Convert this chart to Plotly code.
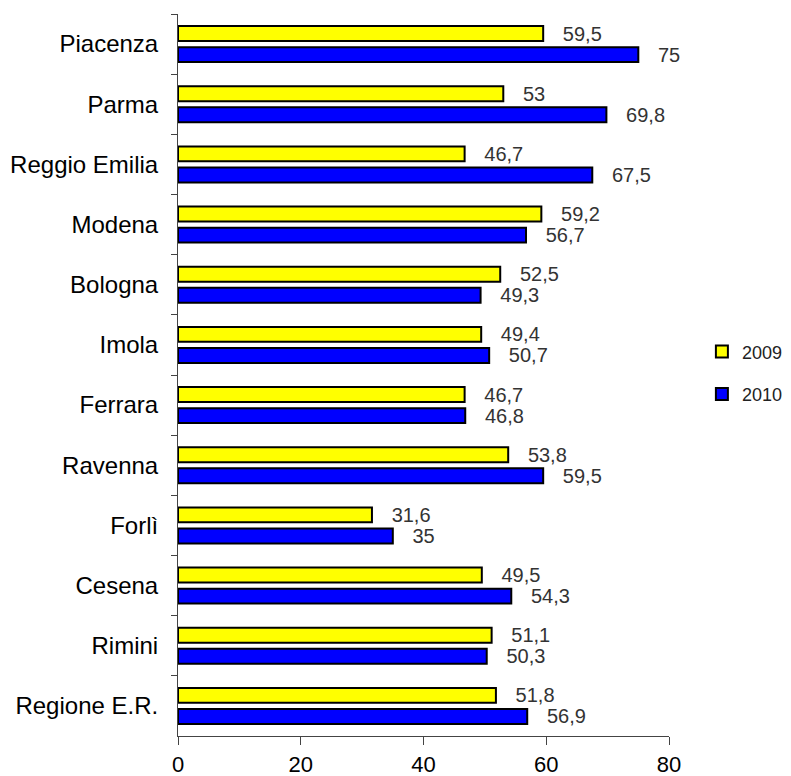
import plotly.graph_objects as go

categories = ["Piacenza", "Parma", "Reggio Emilia", "Modena", "Bologna", "Imola",
              "Ferrara", "Ravenna", "Forlì", "Cesena", "Rimini", "Regione E.R."]
values_2009 = [59.5, 53, 46.7, 59.2, 52.5, 49.4, 46.7, 53.8, 31.6, 49.5, 51.1, 51.8]
values_2010 = [75, 69.8, 67.5, 56.7, 49.3, 50.7, 46.8, 59.5, 35, 54.3, 50.3, 56.9]
series_names = ["2009", "2010"]
x_ticks = [0, 20, 40, 60, 80]


def fmt(v):
    return "\u00a0\u00a0\u00a0" + f"{v:g}".replace(".", ",")


FONT = "Liberation Sans, Arial, sans-serif"

fig = go.Figure()
for name, vals, color in [(series_names[0], values_2009, "#FFFF00"),
                          (series_names[1], values_2010, "#0000FF")]:
    fig.add_trace(go.Bar(
        y=categories, x=vals, orientation="h", name=name,
        marker=dict(color=color, line=dict(color="black", width=2)),
        text=[fmt(v) for v in vals], textposition="outside",
        constraintext="none",
        textfont=dict(family=FONT, size=20, color="#333333"),
        cliponaxis=False, legendgroup=name,
    ))

fig.update_layout(
    width=800, height=768,
    margin=dict(l=170, r=139, t=6, b=40, autoexpand=False),
    paper_bgcolor="white", plot_bgcolor="white",
    barmode="group", bargap=0.3, bargroupgap=0.29,
    font=dict(family=FONT, color="black"),
    showlegend=True,
    legend=dict(x=1.067, y=0.503, xanchor="left", yanchor="middle",
                font=dict(family=FONT, size=18, color="#222222"),
                tracegroupgap=16, bgcolor="rgba(0,0,0,0)"),
    xaxis=dict(range=[0, 80], tickvals=x_ticks, ticks="outside", ticklen=8,
               tickcolor="#444444", showline=True, linecolor="#444444", linewidth=1,
               showgrid=False, zeroline=False, ticklabelstandoff=1,
               tickfont=dict(family=FONT, size=22, color="black")),
    yaxis=dict(categoryorder="array", categoryarray=categories,
               range=[11.5, -0.5], ticks="outside", tickson="boundaries", ticklen=6,
               tickcolor="#444444", showline=True, linecolor="#444444", linewidth=1,
               showgrid=False, zeroline=False, ticklabelstandoff=14,
               tickfont=dict(family=FONT, size=24, color="black")),
)

fig.write_html("out.html")
